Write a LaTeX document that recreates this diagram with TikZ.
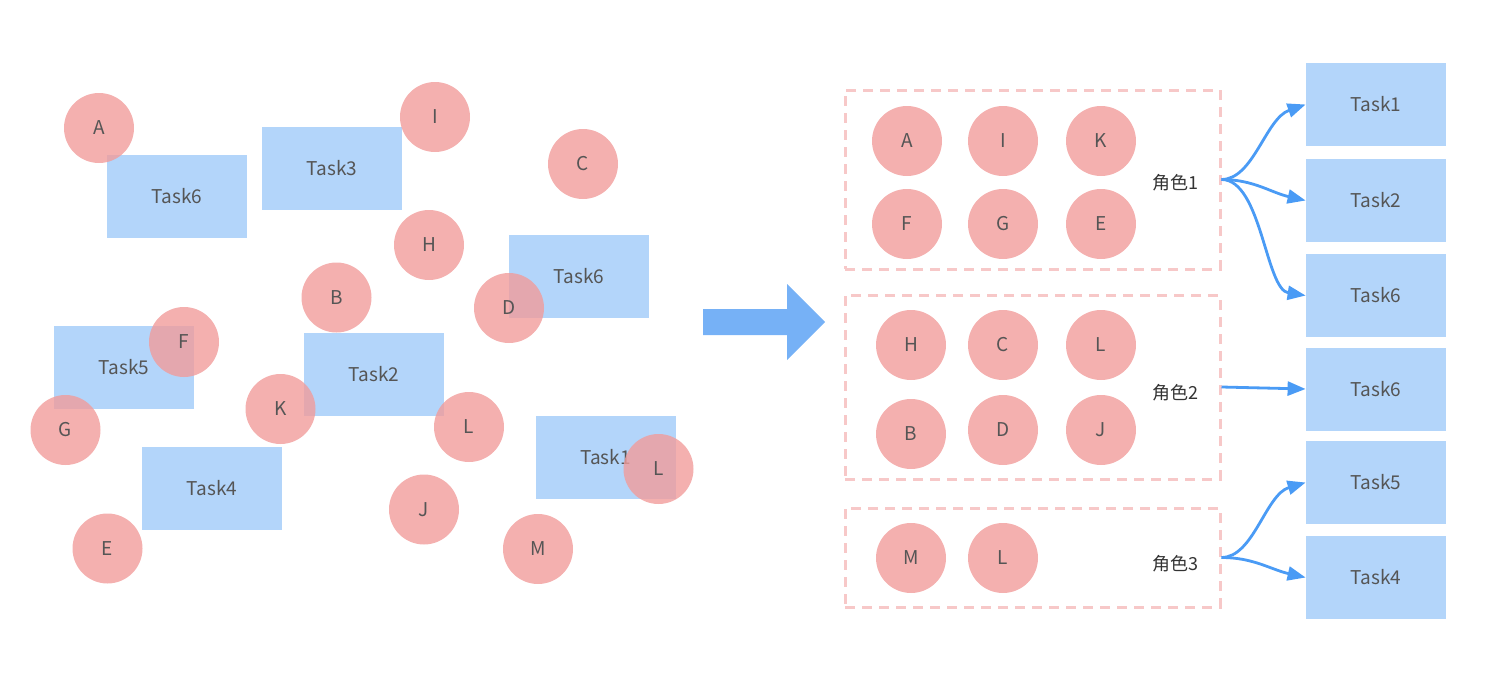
\documentclass[tikz,border=0pt]{standalone}
\usepackage{fontspec}
\setmainfont{Noto Sans CJK SC}
\usetikzlibrary{arrows.meta}
\definecolor{cpink}{RGB}{241,156,155}
\definecolor{cblue}{RGB}{179,213,250}
\definecolor{ctext}{RGB}{85,85,85}
\definecolor{crole}{RGB}{51,51,51}
\definecolor{cline}{RGB}{74,155,245}
\definecolor{cbig}{RGB}{118,177,246}
\definecolor{cdash}{RGB}{247,200,200}
\begin{document}
\begin{tikzpicture}[x=0.5pt,y=-0.5pt,
  person/.style={circle, fill=cpink, fill opacity=0.8, text opacity=1, minimum size=35pt, inner sep=0pt, text=ctext, font=\fontsize{9.5}{10}\selectfont},
  task/.style={rectangle, fill=cblue, minimum width=70pt, minimum height=41.5pt, inner sep=0pt, text=ctext, font=\fontsize{9.5}{10}\selectfont},
  group/.style={draw=cdash, line width=1.5pt, dash pattern=on 5pt off 3.5pt, inner sep=0pt},
  role/.style={text=crole, font=\fontsize{9}{10}\selectfont},
  link/.style={draw=cline, line width=1.4pt, -{Triangle[length=9pt,width=7pt]}}
]
\useasboundingbox (0,0) rectangle (1496,680);

% ---------- left: scattered tasks ----------
\node[task] (lt6a) at (177,196.5) {Task6};
\node[task] (lt3)  at (332,168.5) {Task3};
\node[task] (lt6b) at (579,276.5) {Task6};
\node[task] (lt5)  at (124,367.5) {Task5};
\node[task] (lt2)  at (374,374)   {Task2};
\node[task] (lt4)  at (212,488.5) {Task4};
\node[task] (lt1)  at (605.5,457.5) {Task1};

% ---------- left: scattered people ----------
\node[person] (lA)  at (99,128)     {A};
\node[person] (lI)  at (435,117)    {I};
\node[person] (lC)  at (583,164)    {C};
\node[person] (lH)  at (429,245)    {H};
\node[person] (lB)  at (336.5,297.5){B};
\node[person] (lD)  at (509,308)    {D};
\node[person] (lF)  at (184,342)    {F};
\node[person] (lK)  at (280.5,409)  {K};
\node[person] (lG)  at (65.5,430)   {G};
\node[person] (lL1) at (469,427)    {L};
\node[person] (lJ)  at (424,509.5)  {J};
\node[person] (lE)  at (107.5,548.5){E};
\node[person] (lL2) at (658.5,469)  {L};
\node[person] (lM)  at (538,549)    {M};

% ---------- big arrow ----------
\fill[cbig] (703,309) -- (787,309) -- (787,284) -- (825,322) -- (787,360) -- (787,335) -- (703,335) -- cycle;

% ---------- right: groups ----------
\node[group, minimum width=187.5pt, minimum height=89.5pt] (g1) at (1032.5,179.5) {};
\node[group, minimum width=187.5pt, minimum height=92pt]   (g2) at (1032.5,387) {};
\node[group, minimum width=187.5pt, minimum height=49.5pt] (g3) at (1032.5,557.5) {};

\node[person] (rA) at (907,141)  {A};
\node[person] (rI) at (1003,141) {I};
\node[person] (rK) at (1101,141) {K};
\node[person] (rF) at (907,224)  {F};
\node[person] (rG) at (1003,224) {G};
\node[person] (rE) at (1101,224) {E};

\node[person] (rH)  at (911,345)  {H};
\node[person] (rC)  at (1003,345) {C};
\node[person] (rL1) at (1101,345) {L};
\node[person] (rB)  at (911,434)  {B};
\node[person] (rD)  at (1003,430) {D};
\node[person] (rJ)  at (1101,430) {J};

\node[person] (rM)  at (911,558)  {M};
\node[person] (rL2) at (1003,558) {L};

\node[role] (r1) at (1175,183) {角色1};
\node[role] (r2) at (1175,393) {角色2};
\node[role] (r3) at (1175,564) {角色3};

% ---------- right: tasks ----------
\node[task] (t1)  at (1376,104.5) {Task1};
\node[task] (t2)  at (1376,200.5) {Task2};
\node[task] (t6a) at (1376,295.5) {Task6};
\node[task] (t6b) at (1376,389)   {Task6};
\node[task] (t5)  at (1376,482.5) {Task5};
\node[task] (t4)  at (1376,577.5) {Task4};

% ---------- connectors ----------
\draw[link] (g1.east) .. controls +(32,0) and +(-40,14) .. (t1.west);
\draw[link] (g1.east) .. controls +(32,0) and +(-35,-8) .. (t2.west);
\draw[link] (g1.east) .. controls +(40,0) and +(-40,-6) .. (t6a.west);
\draw[link] (g2.east) -- (t6b.west);
\draw[link] (g3.east) .. controls +(32,0) and +(-40,12) .. (t5.west);
\draw[link] (g3.east) .. controls +(32,0) and +(-35,-8) .. (t4.west);
\end{tikzpicture}
\end{document}
